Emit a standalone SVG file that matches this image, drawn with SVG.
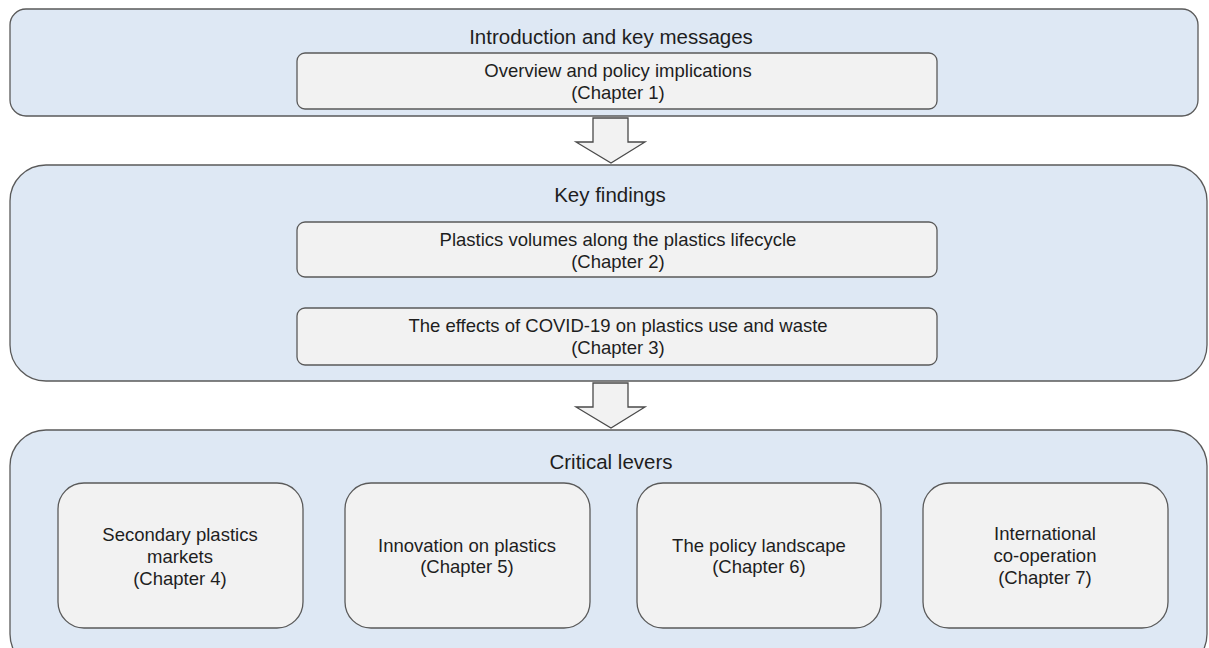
<svg xmlns="http://www.w3.org/2000/svg" width="1209" height="648" viewBox="0 0 1209 648">
<style>
.outer{fill:#dee8f4;stroke:#5a5a5a;stroke-width:1.3}
.inner{fill:#f2f2f2;stroke:#5a5a5a;stroke-width:1.3}
.arrow{fill:#f2f2f2;stroke:#4a4a4a;stroke-width:1.3}
text{font-family:"Liberation Sans",Arial,sans-serif;fill:#1e1e1e;text-anchor:middle}
.t{font-size:20.5px}
.s{font-size:18.5px}
</style>
<rect width="1209" height="648" fill="#fff"/>
<g id="intro">
<rect class="outer" x="10" y="9" width="1188" height="107" rx="16"/>
<text class="t" x="611" y="44">Introduction and key messages</text>
</g>
<g id="ch1">
<rect class="inner" x="297" y="53" width="640" height="56" rx="8"/>
<text class="s" x="618" y="77">Overview and policy implications</text>
<text class="s" x="618" y="99">(Chapter 1)</text>
</g>
<g id="findings">
<rect class="outer" x="10" y="165" width="1197" height="216" rx="36"/>
<text class="t" x="610" y="202">Key findings</text>
</g>
<g id="ch2">
<rect class="inner" x="297" y="222" width="640" height="55" rx="8"/>
<text class="s" x="618" y="246">Plastics volumes along the plastics lifecycle</text>
<text class="s" x="618" y="268">(Chapter 2)</text>
</g>
<g id="ch3">
<rect class="inner" x="297" y="308" width="640" height="57" rx="8"/>
<text class="s" x="618" y="332">The effects of COVID-19 on plastics use and waste</text>
<text class="s" x="618" y="354">(Chapter 3)</text>
</g>
<g id="levers">
<rect class="outer" x="10" y="430" width="1197" height="240" rx="36"/>
<text class="t" x="611" y="469">Critical levers</text>
</g>
<g id="ch4">
<rect class="inner" x="58" y="483" width="245" height="145" rx="26"/>
<text class="s" x="180" y="541">Secondary plastics</text>
<text class="s" x="180" y="563">markets</text>
<text class="s" x="180" y="585">(Chapter 4)</text>
</g>
<g id="ch5">
<rect class="inner" x="345" y="483" width="245" height="145" rx="26"/>
<text class="s" x="467" y="552">Innovation on plastics</text>
<text class="s" x="467" y="573">(Chapter 5)</text>
</g>
<g id="ch6">
<rect class="inner" x="637" y="483" width="244" height="145" rx="26"/>
<text class="s" x="759" y="552">The policy landscape</text>
<text class="s" x="759" y="573">(Chapter 6)</text>
</g>
<g id="ch7">
<rect class="inner" x="923" y="483" width="245" height="145" rx="26"/>
<text class="s" x="1045" y="540">International</text>
<text class="s" x="1045" y="562">co-operation</text>
<text class="s" x="1045" y="584">(Chapter 7)</text>
</g>
<g id="connectors">
<path class="arrow" d="M593,118 H628 V142 H645 L611,163 L576,142 H593 Z"/>
<path class="arrow" d="M593,383 H628 V407 H645 L611,428 L576,407 H593 Z"/>
</g>
</svg>
